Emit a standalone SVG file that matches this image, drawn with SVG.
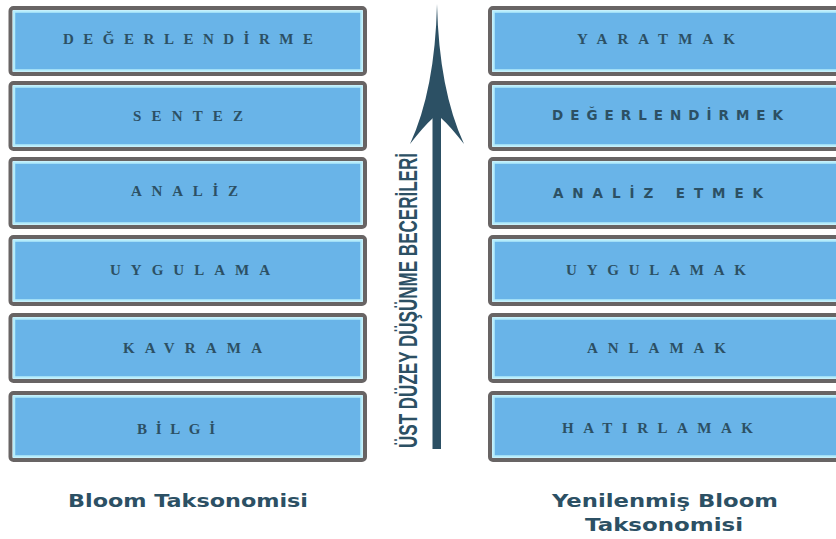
<svg xmlns="http://www.w3.org/2000/svg" width="836" height="539" viewBox="0 0 836 539">
<style>
.outer{fill:#ffffff;stroke:#686464;stroke-width:4}
.inner{fill:#69b4e8;stroke:#b4ecfb;stroke-width:2.5}
.lbl{font-family:"Liberation Serif","DejaVu Serif",serif;font-weight:bold;font-size:15px;fill:#2c5064}
.lbls{font-family:"DejaVu Sans","Liberation Sans",sans-serif;font-weight:bold;font-size:13.5px;fill:#2c5064}
.cap{font-family:"DejaVu Sans","Liberation Sans",sans-serif;font-weight:bold;font-size:17px;fill:#2c5064}
.vt{font-family:"Liberation Sans","DejaVu Sans",sans-serif;font-weight:bold;font-size:25px;fill:#2c5064}
</style>
<rect width="836" height="539" fill="#ffffff"/>
<g id="left-column">
<g id="n-degerlendirme"><rect class="outer" x="10.5" y="8" width="354.5" height="66" rx="3"/><rect class="inner" x="14" y="11.5" width="347.5" height="59"/><text class="lbl" x="63" y="44" textLength="250" lengthAdjust="spacing">DEĞERLENDİRME</text></g>
<g id="n-sentez"><rect class="outer" x="10.5" y="83" width="354.5" height="66" rx="3"/><rect class="inner" x="14" y="86.5" width="347.5" height="59"/><text class="lbl" x="133" y="121" textLength="110" lengthAdjust="spacing">SENTEZ</text></g>
<g id="n-analiz"><rect class="outer" x="10.5" y="159" width="354.5" height="68" rx="3"/><rect class="inner" x="14" y="162.5" width="347.5" height="61"/><text class="lbl" x="131" y="196" textLength="107" lengthAdjust="spacing">ANALİZ</text></g>
<g id="n-uygulama"><rect class="outer" x="10.5" y="237" width="354.5" height="67" rx="3"/><rect class="inner" x="14" y="240.5" width="347.5" height="60"/><text class="lbl" x="110" y="275" textLength="160" lengthAdjust="spacing">UYGULAMA</text></g>
<g id="n-kavrama"><rect class="outer" x="10.5" y="315" width="354.5" height="66" rx="3"/><rect class="inner" x="14" y="318.5" width="347.5" height="59"/><text class="lbl" x="123" y="353" textLength="139" lengthAdjust="spacing">KAVRAMA</text></g>
<g id="n-bilgi"><rect class="outer" x="10.5" y="393" width="354.5" height="67" rx="3"/><rect class="inner" x="14" y="396.5" width="347.5" height="60"/><text class="lbl" x="137" y="434" textLength="78" lengthAdjust="spacing" font-weight="normal">BİLGİ</text></g>
</g>
<g id="right-column">
<g id="n-yaratmak"><rect class="outer" x="490" y="8" width="360" height="66" rx="3"/><rect class="inner" x="493.5" y="11.5" width="360" height="59"/><text class="lbl" x="577" y="44" textLength="158" lengthAdjust="spacing">YARATMAK</text></g>
<g id="n-degerlendirmek"><rect class="outer" x="490" y="83" width="360" height="66" rx="3"/><rect class="inner" x="493.5" y="86.5" width="360" height="59"/><text class="lbls" x="552" y="120" textLength="231" lengthAdjust="spacing">DEĞERLENDİRMEK</text></g>
<g id="n-analiz-etmek"><rect class="outer" x="490" y="159" width="360" height="68" rx="3"/><rect class="inner" x="493.5" y="162.5" width="360" height="61"/><text class="lbls" x="553" y="198" textLength="210" lengthAdjust="spacing">ANALİZ ETMEK</text></g>
<g id="n-uygulamak"><rect class="outer" x="490" y="237" width="360" height="67" rx="3"/><rect class="inner" x="493.5" y="240.5" width="360" height="60"/><text class="lbl" x="566" y="275" textLength="180" lengthAdjust="spacing">UYGULAMAK</text></g>
<g id="n-anlamak"><rect class="outer" x="490" y="315" width="360" height="66" rx="3"/><rect class="inner" x="493.5" y="318.5" width="360" height="59"/><text class="lbl" x="587" y="353" textLength="139" lengthAdjust="spacing">ANLAMAK</text></g>
<g id="n-hatirlamak"><rect class="outer" x="490" y="393" width="360" height="67" rx="3"/><rect class="inner" x="493.5" y="396.5" width="360" height="60"/><text class="lbl" x="562" y="433" textLength="191" lengthAdjust="spacing" font-weight="normal">HATIRLAMAK</text></g>
</g>
<g id="connectors">
<rect x="432.5" y="115" width="8.5" height="334" fill="#2c5064"/>
<path d="M437,4 Q435,90 410,144 Q424,126 433,118 L441,118 Q450,126 464,144 Q439,90 437,4 Z" fill="#2c5064"/>
</g>
<g id="axis-label">
<text class="vt" transform="translate(417,448) rotate(-90)" x="0" y="0" textLength="295" lengthAdjust="spacingAndGlyphs">ÜST DÜZEY DÜŞÜNME BECERİLERİ</text>
</g>
<g id="captions">
<text class="cap" x="68" y="507" textLength="240" lengthAdjust="spacingAndGlyphs">Bloom Taksonomisi</text>
<text class="cap" x="552" y="507" textLength="226" lengthAdjust="spacingAndGlyphs">Yenilenmiş Bloom</text>
<text class="cap" x="585" y="531" textLength="158" lengthAdjust="spacingAndGlyphs">Taksonomisi</text>
</g>
</svg>
